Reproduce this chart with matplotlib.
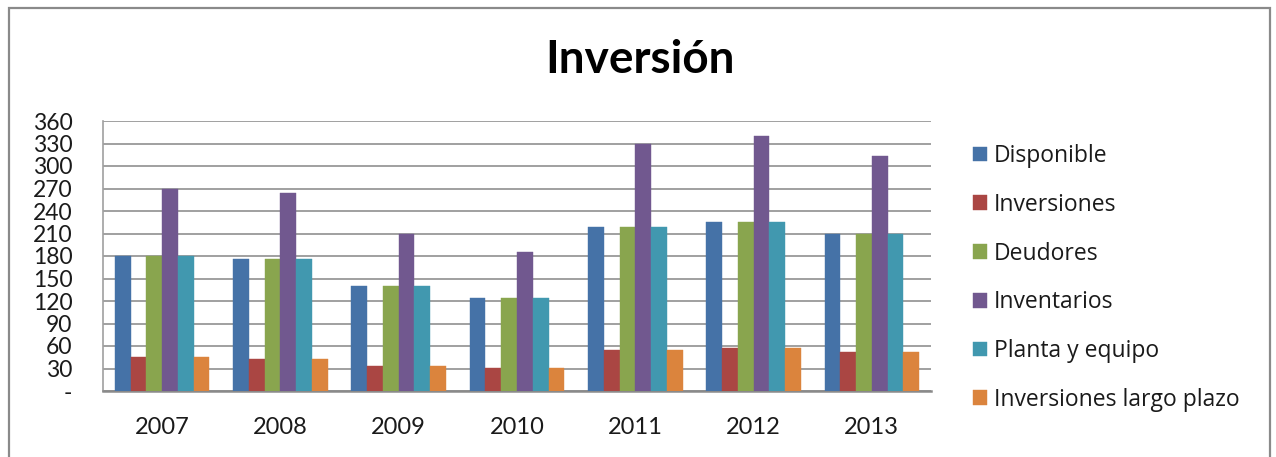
import numpy as np
import matplotlib
matplotlib.use("Agg")
import matplotlib.pyplot as plt
from matplotlib.patches import Rectangle

years = ["2007", "2008", "2009", "2010", "2011", "2012", "2013"]
disponible = [180, 176, 140, 124, 219, 226, 209]
inversiones = [45, 43, 34, 31, 55, 57, 52]
deudores = [180, 176, 140, 124, 219, 226, 209]
inventarios = [270, 264, 210, 186, 329, 340, 314]
planta = [180, 176, 140, 124, 219, 226, 209]
inv_largo = [45, 43, 34, 31, 55, 57, 52]

series = [
    ("Disponible", disponible, "#4572A7"),
    ("Inversiones", inversiones, "#AA4643"),
    ("Deudores", deudores, "#89A54E"),
    ("Inventarios", inventarios, "#71588F"),
    ("Planta y equipo", planta, "#4198AF"),
    ("Inversiones largo plazo", inv_largo, "#DB843D"),
]

plt.rcParams["font.family"] = ["Lato", "DejaVu Sans"]

fig = plt.figure(figsize=(12.76, 4.57), dpi=100)
ax = fig.add_axes([103 / 1276, 1 - 391 / 457, 828 / 1276, 270 / 457])

# chart frame
fig.patches.append(Rectangle((9 / 1276, -0.05), 1261 / 1276, 1.05 - 8 / 457,
                             transform=fig.transFigure, fill=False,
                             ec="#8a8a8a", lw=1.6))

x = np.arange(len(years))
n = len(series)
w = 1 / (n + 1.5)
for i, (lab, vals, col) in enumerate(series):
    ax.bar(x + (i - (n - 1) / 2) * w, vals, w, color=col, label=lab,
           edgecolor=col, lw=0.3, zorder=3)

ax.set_xlim(-0.5, len(years) - 0.5)
ax.set_ylim(0, 360)
yt = np.arange(0, 361, 30)
ax.set_yticks(yt)
ax.set_yticklabels(["-"] + [str(v) for v in yt[1:]])
ax.set_xticks(x)
ax.set_xticklabels(years)
ax.tick_params(axis="y", length=0, pad=22, labelsize=16.5, colors="#1a1a1a")
ax.tick_params(axis="x", length=0, pad=19, labelsize=17, colors="#1a1a1a")
ax.grid(axis="y", color="#a0a0a0", lw=1.4, zorder=0)
for s in ["top", "right"]:
    ax.spines[s].set_visible(False)
ax.spines["left"].set_color("#a0a0a0")
ax.spines["left"].set_linewidth(1.2)
ax.spines["bottom"].set_color("#8a8a8a")
ax.spines["bottom"].set_linewidth(1.8)

fig.text(640 / 1276, 1 - 60 / 457, "Inversión", ha="center", va="center",
         fontsize=33, fontweight="bold", color="black")

leg = ax.legend(loc="center left", bbox_to_anchor=(973 / 1276, 1 - 278 / 457),
                bbox_transform=fig.transFigure, frameon=False,
                prop={"family": "Open Sans", "size": 16.5},
                handlelength=0.62, handleheight=0.62, handletextpad=0.3,
                labelspacing=1.08, borderaxespad=0, borderpad=0)
for t in leg.get_texts():
    t.set_color("#1a1a1a")

fig.savefig("out.png", dpi=100)
